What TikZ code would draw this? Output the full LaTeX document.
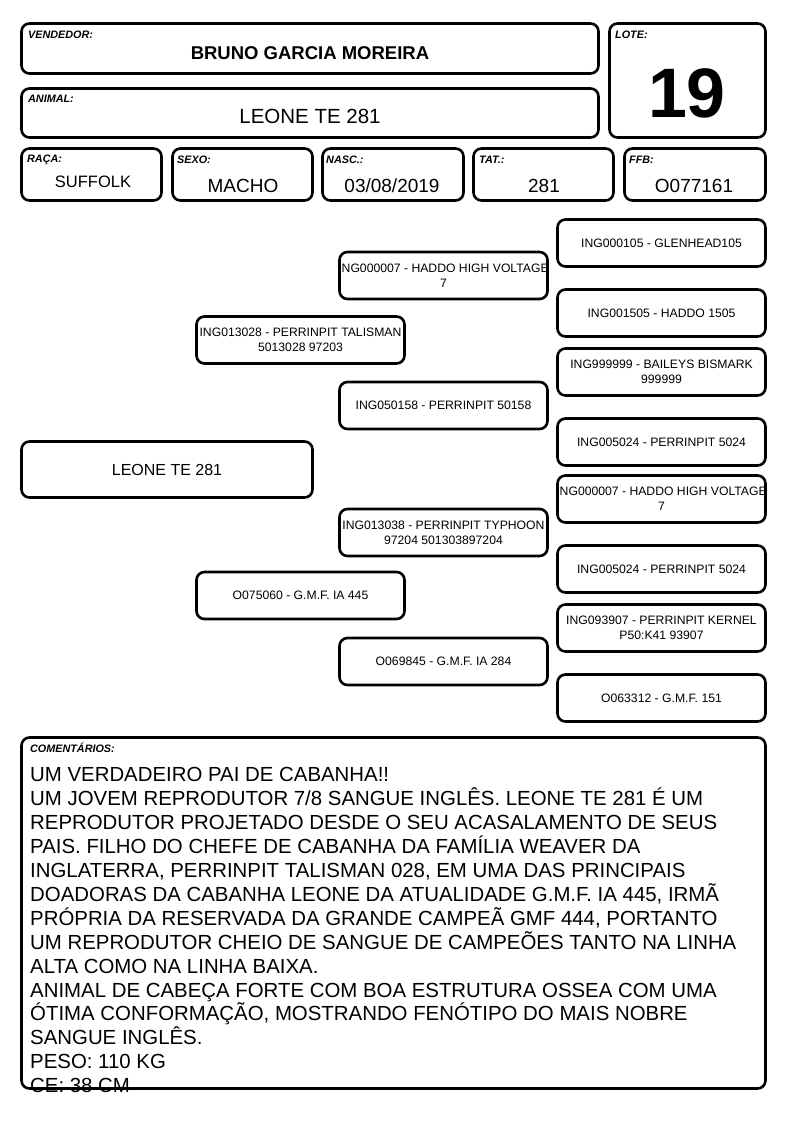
\documentclass[tikz,border=0pt]{standalone}
\usepackage{fontspec}
\setmainfont{Liberation Sans}
\usetikzlibrary{positioning}

% keep an over-long line from widening its box
\newcommand{\fitline}[1]{\makebox[200pt]{#1}}

\tikzset{
    card/.style={draw=black, line width=2.6pt, rounded corners=8pt, fill=white, inner sep=0pt},
    pedbox/.style={card, minimum width=208pt, minimum height=47pt, align=center,
        font=\fontsize{12.2}{14.8}\selectfont},
    tag/.style={anchor=base west, inner sep=0pt, font=\fontsize{10.8}{12}\selectfont\bfseries\itshape},
    value/.style={inner sep=0pt, font=\fontsize{19}{21}\selectfont},
}

\begin{document}
\begin{tikzpicture}[x=1pt, y=-1pt]
    \useasboundingbox (0,0) rectangle (794,1123);

    % Column positions of the pedigree
    \def\colA{167}
    \def\colB{300.5}
    \def\colC{443.5}
    \def\colD{661.5}

    % Draw header cards
    \node[card, minimum width=577pt, minimum height=50pt] (vendor) at (310,48.5) {};
    \node[card, minimum width=577pt, minimum height=49pt] (animal) at (310,113) {};
    \node[card, minimum width=156pt, minimum height=114pt] (lot) at (687.5,80.5) {};
    \node[tag] (vendorTag) at (28,39) {VENDEDOR:};
    \node[tag] (animalTag) at (28,103) {ANIMAL:};
    \node[tag] (lotTag) at (615,39) {LOTE:};
    \node[inner sep=0pt, font=\fontsize{18.5}{20}\selectfont\bfseries] (vendorName) at (310,53) {BRUNO GARCIA MOREIRA};
    \node[inner sep=0pt, font=\fontsize{20.5}{22}\selectfont] (animalName) at (310,116) {LEONE TE 281};
    \node[inner sep=0pt, font=\fontsize{70}{72}\selectfont\bfseries] (lotNum) at (687,93) {19};

    % Draw data cards
    \node[card, minimum width=140pt, minimum height=52pt] (breed) at (91.5,174.5) {};
    \node[card, minimum width=140pt, minimum height=52pt] (sex) at (242.5,174.5) {};
    \node[card, minimum width=141pt, minimum height=52pt] (birth) at (393,174.5) {};
    \node[card, minimum width=140pt, minimum height=52pt] (tat) at (543.5,174.5) {};
    \node[card, minimum width=141pt, minimum height=52pt] (ffb) at (695,174.5) {};
    \node[tag] (breedTag) at (27,163) {RAÇA:};
    \node[tag] (sexTag) at (177,164) {SEXO:};
    \node[tag] (birthTag) at (326,164) {NASC.:};
    \node[tag] (tatTag) at (479,164) {TAT.:};
    \node[tag] (ffbTag) at (629,164) {FFB:};
    \node[value, font=\fontsize{16.5}{18}\selectfont] (breedVal) at (93,182) {SUFFOLK};
    \node[value] (sexVal) at (243,186) {MACHO};
    \node[value] (birthVal) at (392,186) {03/08/2019};
    \node[value] (tatVal) at (544,186) {281};
    \node[value] (ffbVal) at (694,186) {O077161};

    % Draw pedigree
    \node[card, minimum width=291pt, minimum height=56pt, font=\fontsize{16}{18}\selectfont] (self) at (\colA,469.5) {LEONE TE 281};

    \node[pedbox] (sire) at (\colB,340) {\fitline{ING013028 - PERRINPIT TALISMAN}\\5013028 97203};
    \node[pedbox] (dam) at (\colB,595.5) {O075060 - G.M.F. IA 445};

    \node[pedbox] (ss) at (\colC,275.5) {\fitline{ING000007 - HADDO HIGH VOLTAGE}\\7};
    \node[pedbox] (sd) at (\colC,405.5) {ING050158 - PERRINPIT 50158};
    \node[pedbox] (ds) at (\colC,532.5) {\fitline{ING013038 - PERRINPIT TYPHOON}\\97204 501303897204};
    \node[pedbox] (dd) at (\colC,661.5) {O069845 - G.M.F. IA 284};

    \foreach \i/\y/\txt in {1/243/{ING000105 - GLENHEAD105},
                             2/313/{ING001505 - HADDO 1505},
                             3/372/{ING999999 - BAILEYS BISMARK\\999999},
                             4/442/{ING005024 - PERRINPIT 5024},
                             5/499/{\fitline{ING000007 - HADDO HIGH VOLTAGE}\\7},
                             6/569/{ING005024 - PERRINPIT 5024},
                             7/628/{ING093907 - PERRINPIT KERNEL\\P50:K41 93907},
                             8/698/{O063312 - G.M.F. 151}}
        \node[pedbox] (gg\i) at (\colD,\y) {\txt};

    % Draw comments
    \node[card, minimum width=744pt, minimum height=351pt] (notes) at (393.5,913) {};
    \node[tag] (notesTag) at (30,752) {COMENTÁRIOS:};
    \node[anchor=north west, inner sep=0pt, align=left,
          font={\fontsize{20.4}{23.9}\selectfont\lineskiplimit -100pt\relax}] (notesText) at (30,767.5)
        {UM VERDADEIRO PAI DE CABANHA!!\\
         UM JOVEM REPRODUTOR 7/8 SANGUE INGLÊS. LEONE TE 281 É UM\\
         REPRODUTOR PROJETADO DESDE O SEU ACASALAMENTO DE SEUS\\
         PAIS. FILHO DO CHEFE DE CABANHA DA FAMÍLIA WEAVER DA\\
         INGLATERRA, PERRINPIT TALISMAN 028, EM UMA DAS PRINCIPAIS\\
         DOADORAS DA CABANHA LEONE DA ATUALIDADE G.M.F. IA 445, IRMÃ\\
         PRÓPRIA DA RESERVADA DA GRANDE CAMPEÃ GMF 444, PORTANTO\\
         UM REPRODUTOR CHEIO DE SANGUE DE CAMPEÕES TANTO NA LINHA\\
         ALTA COMO NA LINHA BAIXA.\\
         ANIMAL DE CABEÇA FORTE COM BOA ESTRUTURA OSSEA COM UMA\\
         ÓTIMA CONFORMAÇÃO, MOSTRANDO FENÓTIPO DO MAIS NOBRE\\
         SANGUE INGLÊS.\\
         PESO: 110 KG\\
         CE: 38 CM};

\end{tikzpicture}
\end{document}
